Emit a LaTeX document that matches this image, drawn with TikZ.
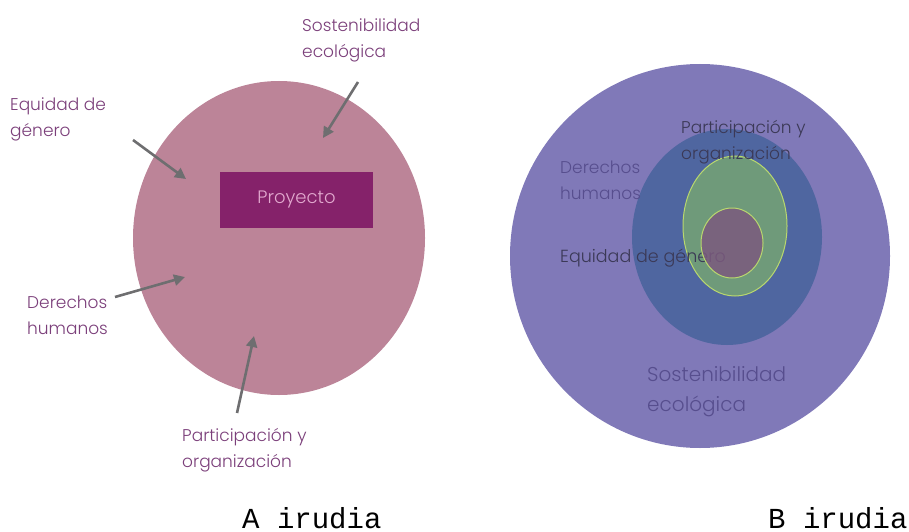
\documentclass[tikz,border=0pt]{standalone}
\usepackage{fontspec}
\newfontfamily\lblfont{Poppins Light}
\setmonofont{Liberation Mono}
\usetikzlibrary{shapes.geometric,arrows.meta}
\definecolor{roseA}{HTML}{BC8498}
\definecolor{plumA}{HTML}{85226A}
\definecolor{pinkA}{HTML}{E2A9CF}
\definecolor{textA}{HTML}{7B3F7A}
\definecolor{arrowA}{HTML}{6E6E70}
\definecolor{lavB}{HTML}{8079B8}
\definecolor{blueB}{HTML}{4F66A0}
\definecolor{greenB}{HTML}{6F9A7A}
\definecolor{limeB}{HTML}{B9D86E}
\definecolor{mauveB}{HTML}{7B5A7E}
\definecolor{darkB}{HTML}{3B3956}
\definecolor{softB}{HTML}{574E8E}
\begin{document}
\begin{tikzpicture}[x=1pt, y=-1pt,
   disc/.style={ellipse, draw=none, inner sep=0pt},
   lbl/.style={anchor=west, align=left, inner sep=0pt, font=\lblfont\fontsize{17}{26}\selectfont},
   pointer/.style={draw=arrowA, line width=2.6pt, -{Triangle[length=11pt, width=11pt]}},
   caption/.style={anchor=base west, font=\ttfamily\fontsize{29}{30}\selectfont, inner sep=0pt}]
\useasboundingbox (0,0) rectangle (909,532);

% A irudia
\node[disc, fill=roseA, minimum width=292, minimum height=314] (circA) at (279,238) {};
\node[fill=plumA, minimum width=153, minimum height=56, text=pinkA,
      font=\lblfont\fontsize{18}{20}\selectfont] (proj) at (296.5,200) {Proyecto};

\node[lbl, text=textA] (sostA) at (302,40) {Sostenibilidad\\ecológica};
\node[lbl, text=textA] (equiA) at (10,119) {Equidad de\\género};
\node[lbl, text=textA] (dereA) at (27,315) {Derechos\\humanos};
\node[lbl, text=textA] (partA) at (182,450) {Participación y\\organización};

\coordinate (sostT) at (358,82);  \coordinate (sostH) at (323,138);
\coordinate (equiT) at (133,140); \coordinate (equiH) at (186,179);
\coordinate (dereT) at (115,297); \coordinate (dereH) at (185,277);
\coordinate (partT) at (237,413); \coordinate (partH) at (254,336);
\draw[pointer] (sostT) -- (sostH);
\draw[pointer] (equiT) -- (equiH);
\draw[pointer] (dereT) -- (dereH);
\draw[pointer] (partT) -- (partH);

\node[caption] (capA) at (242,528) {A irudia};

% B irudia
\node[disc, fill=lavB, minimum width=380, minimum height=384] (bigB) at (700,256) {};
\node[disc, fill=blueB, minimum width=190, minimum height=216] (blueC) at (727,237) {};
\node[disc, fill=greenB, draw=limeB, line width=1pt, minimum width=104, minimum height=140] (greenC) at (735,226) {};

\node[lbl, text=darkB] (partB) at (681,142) {Participación y\\organización};
\node[lbl, text=softB] (dereB) at (560,180) {Derechos\\humanos};
\node[lbl, text=darkB, font=\lblfont\fontsize{17.5}{26}\selectfont] (equiB) at (560,258) {Equidad de género};
\node[lbl, text=softB, font=\lblfont\fontsize{20}{30}\selectfont] (sostB) at (647,392) {Sostenibilidad\\ecológica};

\node[disc, fill=mauveB, fill opacity=0.85, draw=limeB, line width=1pt, minimum width=62, minimum height=70] (coreC) at (732,243) {};

\node[caption] (capB) at (768,528) {B irudia};
\end{tikzpicture}
\end{document}
